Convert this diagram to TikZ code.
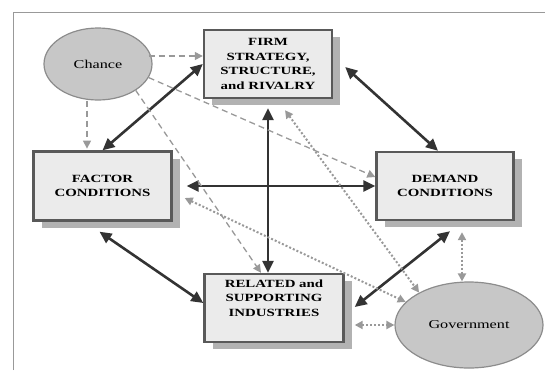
\documentclass[tikz,border=0pt]{standalone}
\usepackage{fontspec}
\setmainfont{Liberation Serif}[FakeStretch=1.35]
\usetikzlibrary{shapes.geometric}
\usetikzlibrary{shadows}
\usetikzlibrary{arrows.meta}
\tikzset{box/.style={draw=black!65,line width=2.4pt,fill=black!8,align=center,
   font=\bfseries\fontsize{11}{14.5}\selectfont,
   drop shadow={shadow xshift=8pt,shadow yshift=-7pt,fill=black!30,opacity=1}},
 blob/.style={ellipse,draw=black!45,line width=1.2pt,fill=black!22,inner sep=0pt,
   font=\fontsize{12}{14}\selectfont},
 strong/.style={draw=black!80,line width=2.6pt,
   {Triangle[length=12pt,width=11pt]}-{Triangle[length=12pt,width=11pt]}},
 luck/.style={draw=black!40,line width=1.3pt,dash pattern=on 6pt off 4pt,
   -{Triangle[length=8pt,width=8pt]}},
 gov/.style={draw=black!40,line width=2pt,dash pattern=on 2pt off 2pt,
   {Triangle[length=8pt,width=8pt]}-{Triangle[length=8pt,width=8pt]}},
}

\begin{document}
\begin{tikzpicture}[x=1pt,y=-1pt]
        \useasboundingbox (0,0) rectangle (545,370);
        \draw[black!40,line width=0.8pt] (13,370) -- (13,12.5) -- (545,12.5);
        % the four corners
        \node[box,minimum width=128pt,minimum height=68pt] (firm) at (268,64)
            {FIRM\\STRATEGY,\\STRUCTURE,\\and RIVALRY};
        \node[box,minimum width=138pt,minimum height=69pt] (factor) at (102.5,186)
            {FACTOR\\CONDITIONS};
        \node[box,minimum width=137pt,minimum height=68pt] (demand) at (445,186)
            {DEMAND\\CONDITIONS};
        \node[box,minimum width=139pt,minimum height=68pt,text depth=20pt] (related) at (274,308)
            {RELATED and\\SUPPORTING\\INDUSTRIES};
        \node[blob,minimum width=108pt,minimum height=72pt] (chance) at (98,64) {Chance};
        \node[blob,minimum width=148pt,minimum height=86pt] (govt) at (469,325) {Government};
        % diamond
        \draw[strong] (factor.north) -- (firm.west);
        \draw[strong] ([xshift=12pt,yshift=-3pt]firm.east) -- ([xshift=-7pt]demand.north);
        \draw[strong] ([yshift=-9pt]firm.south) -- (firm.south |- related.north);
        \draw[strong] ([xshift=14pt]factor.east) -- (demand.west);
        \draw[strong] ([xshift=-3pt,yshift=-10pt]factor.south) -- ([yshift=5pt]related.west);
        \draw[strong] ([xshift=5pt,yshift=-10pt]demand.south) -- ([xshift=10pt,yshift=1pt]related.east);
        % chance
        \draw[luck] ([xshift=-4pt,yshift=8pt]chance.east) -- ([yshift=8pt]firm.west);
        \draw[luck] ([xshift=-11pt]chance.south) -- ([xshift=-11pt,yshift=-48pt]chance.south);
        \draw[luck] (chance.-15) -- ([yshift=9pt]demand.west);
        \draw[luck] (chance.-35) -- ([xshift=-13pt]related.north);
        % government
        \coordinate (dg) at ([xshift=17pt,yshift=-11pt]demand.south);
        \draw[gov] ([xshift=17pt,yshift=-11pt]firm.south) -- (govt.147);
        \draw[gov] ([xshift=12pt,yshift=-12pt]factor.east) -- (govt.160);
        \draw[gov] (dg) -- (dg |- govt.north);
        \draw[gov] ([xshift=10pt,yshift=-17pt]related.east) -- (govt.west);
    \end{tikzpicture}
\end{document}
